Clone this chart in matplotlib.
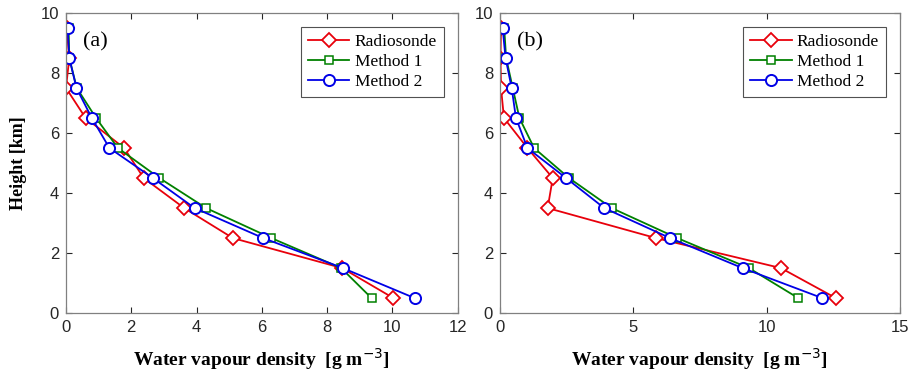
import matplotlib
matplotlib.use("Agg")
import matplotlib.pyplot as plt
import numpy as np

height = [0.5, 1.5, 2.5, 3.5, 4.5, 5.5, 6.5, 7.5, 8.5, 9.5]

# panel (a)
radio_a = [10.03, 8.46, 5.11, 3.62, 2.38, 1.78, 0.60, 0.0, 0.10, 0.02]
meth1_a = [9.36, 8.43, 6.29, 4.29, 2.86, 1.59, 0.92, 0.33, 0.10, 0.08]
meth2_a = [10.68, 8.48, 6.04, 3.94, 2.66, 1.33, 0.79, 0.32, 0.10, 0.05]

# panel (b)
radio_b = [12.6, 10.54, 5.85, 1.79, 1.98, 1.03, 0.15, 0.04, 0.02, 0.04]
meth1_b = [11.19, 9.34, 6.65, 4.19, 2.59, 1.28, 0.73, 0.48, 0.23, 0.16]
meth2_b = [12.09, 9.10, 6.38, 3.91, 2.48, 1.03, 0.60, 0.44, 0.21, 0.10]

panels = [
    ("(a)", radio_a, meth1_a, meth2_a, 12, [0, 2, 4, 6, 8, 10, 12]),
    ("(b)", radio_b, meth1_b, meth2_b, 15, [0, 5, 10, 15]),
]

serif = ["Liberation Serif", "DejaVu Serif"]
sans = ["Liberation Sans", "DejaVu Sans"]
edge = "#262626"

fig = plt.figure(figsize=(9.09, 3.8), dpi=100)
rects = [[0.0726, 0.176, 0.431, 0.790], [0.550, 0.176, 0.440, 0.790]]

for rect, (tag, radio, m1, m2, xmax, xt) in zip(rects, panels):
    ax = fig.add_axes(rect)
    ax.plot(radio, height, color="#e8000b", lw=1.3, marker="D", ms=7,
            mfc="white", mec="#e8000b", mew=1.3, label="Radiosonde")
    ax.plot(m1, height, color="#008000", lw=1.3, marker="s", ms=5.5,
            mfc="white", mec="#008000", mew=1.1, label="Method 1")
    ax.plot(m2, height, color="#0000e6", lw=1.3, marker="o", ms=8,
            mfc="white", mec="#0000e6", mew=1.4, label="Method 2")

    ax.set_xlim(0, xmax)
    ax.set_ylim(0, 10)
    ax.set_xticks(xt)
    ax.set_yticks([0, 2, 4, 6, 8, 10])
    ax.tick_params(direction="in", top=True, right=True, colors=edge,
                   labelsize=12, length=4, width=0.8, pad=5)
    for lab in ax.get_xticklabels() + ax.get_yticklabels():
        lab.set_family(sans)
        lab.set_color(edge)
    for sp in ax.spines.values():
        sp.set_color("#808080")
        sp.set_linewidth(0.9)

    ax.text(0.043, 0.905, tag, transform=ax.transAxes, fontsize=16,
            family=serif, va="center", ha="left")
    ax.set_xlabel("Water vapour density  [g m$^{-3}$]", family=serif,
                  fontsize=14, fontweight="bold", labelpad=8)
    if tag == "(a)":
        ax.set_ylabel("Height [km]", family=serif, fontsize=13,
                      fontweight="bold", labelpad=10)

    leg = ax.legend(loc="upper right", prop={"family": serif, "size": 12.5},
                    frameon=True, fancybox=False, borderaxespad=0.8,
                    handlelength=2.4, handletextpad=0.3, labelspacing=0.22,
                    borderpad=0.4)
    leg.get_frame().set_edgecolor(edge)
    leg.get_frame().set_linewidth(0.8)

fig.savefig("out.png", dpi=100)
